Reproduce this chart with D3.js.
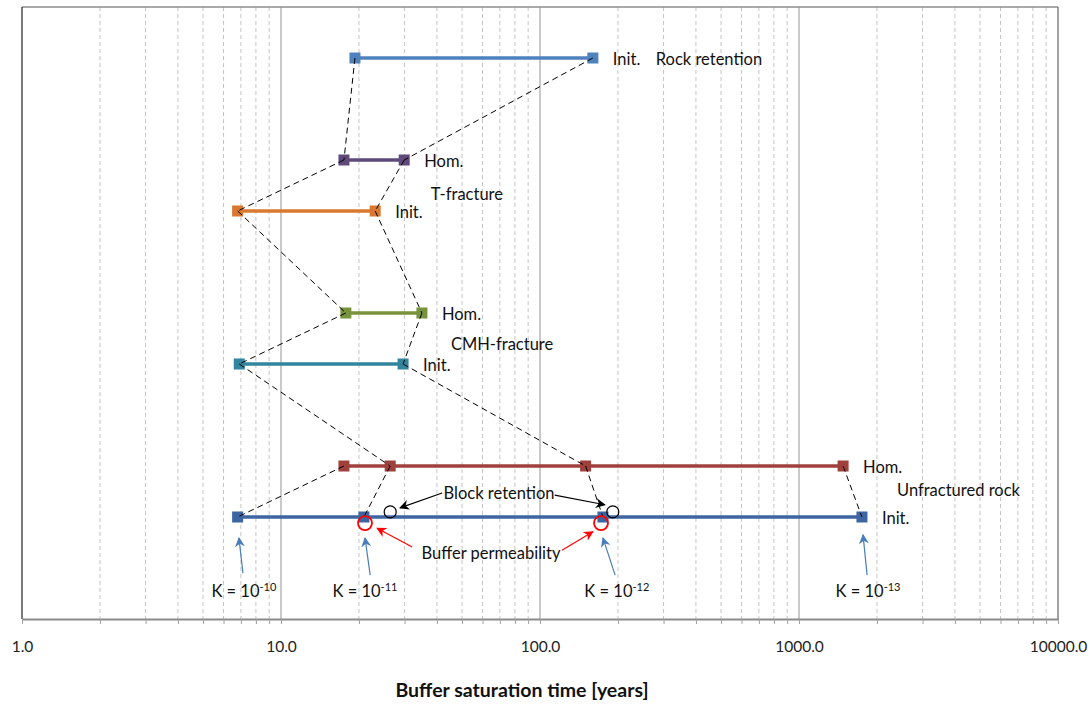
<!DOCTYPE html>
<html><head><meta charset="utf-8">
<script src="https://cdn.jsdelivr.net/npm/d3@7"></script>
<style>
body{margin:0;background:#fff;}
text{font-family:Lato,"Open Sans","Liberation Sans",Arial,sans-serif;}
</style></head>
<body><svg id="c" width="1090" height="704"></svg>
<script>
// ---- data ----
const rowNames = ["Rock retention Init.","T-fracture Hom.","T-fracture Init.","CMH-fracture Hom.","CMH-fracture Init.","Unfractured rock Hom.","Unfractured rock Init."];
const rowLevels = [0,2,3,5,6,8,9];
const rowValues = [[19.3,160],[17.5,29.9],[6.8,23.1],[17.8,35.0],[6.9,29.6],[17.5,26.4,150,1480],[6.8,20.9,175,1750]];
const rowColors = ["#4f81bd","#604a7b","#d9782f","#77933c","#31859c","#a0403d","#3c65a2"];
const rowLabels = ["Init.","Hom.","Init.","Hom.","Init.","Hom.","Init."];
// connector links: [fromRow, fromPoint, toRow, toPoint]
const links = [[0,0,1,0],[0,1,1,1],[1,0,2,0],[1,1,2,1],[2,0,3,0],[2,1,3,1],[3,0,4,0],[3,1,4,1],[4,0,5,1],[4,1,5,2],[5,0,6,0],[5,1,6,1],[5,2,6,2],[5,3,6,3]];
const groupNames = ["Rock retention","T-fracture","CMH-fracture","Unfractured rock"];
const groupX = [280,37.9,45.3,2390];
const groupLevels = [0,2.65,5.59,8.45];
const xTickLabels = [1,10,100,1000,10000];
// annotations (data units)
const blockCircles = [[26.4,8.9],[191,8.9]];
const bufferCircles = [[21.1,9.12],[172,9.12]];
const blockArrows = [[41.9,8.53,28.8,8.82],[114,8.57,178,8.76]];
const bufferArrows = [[32.1,9.59,23.5,9.22],[121.6,9.65,160,9.29]];
const kArrows = [[7.13,10.1,6.88,9.41],[22.1,10.14,21.1,9.41],[195,10.14,175,9.41],[1832,10.14,1767,9.35]];
const kLabelX = [7.19,21.1,198,1847];
const kExponents = ["-10","-11","-12","-13"];

// ---- layout ----
const svg = d3.select("#c");
const L=22,R=1058,T=7,B=619;
const x = d3.scaleLog().domain([1,10000]).range([L,R]);
const y = d3.scaleLinear().domain([-1,11]).range([T,B]);
const FS = 16.5;

const defs = svg.append("defs");
function mk(id,color){
  defs.append("marker").attr("id",id).attr("viewBox","0 0 10 10").attr("refX",9).attr("refY",5)
   .attr("markerWidth",10).attr("markerHeight",10).attr("markerUnits","userSpaceOnUse").attr("orient","auto")
   .append("path").attr("d","M0,0 L10,5 L0,10 L3,5 Z").attr("fill",color);
}
mk("ab","#000");mk("ar","#ff0000");mk("au","#4a7ebb");

// grid
const minor=[];
for(let d=1;d<10000;d*=10){for(let k=2;k<=9;k++)minor.push(d*k);}
svg.append("g").selectAll("line").data(minor).join("line")
  .attr("x1",d=>x(d)).attr("x2",d=>x(d)).attr("y1",T).attr("y2",B)
  .attr("stroke","#c4c4c4").attr("stroke-dasharray","4,3").attr("stroke-width",1);
svg.append("g").selectAll("line").data([10,100,1000]).join("line")
  .attr("x1",d=>x(d)).attr("x2",d=>x(d)).attr("y1",T).attr("y2",B)
  .attr("stroke","#a6a6a6").attr("stroke-width",1.2);

// border
svg.append("line").attr("x1",L).attr("x2",R).attr("y1",T).attr("y2",T).attr("stroke","#8c8c8c").attr("stroke-width",1.3);
svg.append("line").attr("x1",L).attr("x2",L).attr("y1",T).attr("y2",B).attr("stroke","#222").attr("stroke-width",1.2);
svg.append("line").attr("x1",R).attr("x2",R).attr("y1",T).attr("y2",B).attr("stroke","#6e6e6e").attr("stroke-width",1.3);

// axis
const ax = svg.append("g").attr("transform",`translate(0,${B})`)
  .call(d3.axisBottom(x).tickValues(minor.concat(xTickLabels)).tickSize(5).tickSizeOuter(0)
     .tickFormat(d=>xTickLabels.includes(d)?d3.format(".1f")(d):""));
ax.select(".domain").attr("stroke","#8a8a8a").attr("stroke-width",2.2);
ax.selectAll(".tick line").attr("stroke","#a0a0a0");
ax.selectAll(".tick text").attr("font-size",15.5).attr("fill","#222").attr("dy",25)
  .attr("font-family","Lato,sans-serif");
svg.append("text").attr("x",522).attr("y",697).attr("text-anchor","middle")
  .attr("font-size",19.5).attr("font-weight","bold").attr("fill","#111").text("Buffer saturation time [years]");

// connector dashed lines
const dash = g=>g.selectAll("line").data(links).join("line")
  .attr("x1",d=>x(rowValues[d[0]][d[1]])).attr("y1",d=>y(rowLevels[d[0]]))
  .attr("x2",d=>x(rowValues[d[2]][d[3]])).attr("y2",d=>y(rowLevels[d[2]]))
  .attr("stroke","#000").attr("stroke-width",1).attr("stroke-dasharray","6,4");

// rows
rowValues.forEach((vals,i)=>{
  const g=svg.append("g");
  g.append("path").attr("d",d3.line().x(v=>x(v)).y(()=>y(rowLevels[i]))(vals))
    .attr("stroke",rowColors[i]).attr("stroke-width",3.5).attr("fill","none");
  g.selectAll("rect").data(vals).join("rect")
    .attr("x",v=>x(v)-5.5).attr("y",y(rowLevels[i])-5.5).attr("width",11).attr("height",11)
    .attr("fill",rowColors[i]);
  g.append("text").attr("x",x(vals[vals.length-1])+20).attr("y",y(rowLevels[i])+1).attr("dy","0.35em")
    .attr("font-size",FS).attr("fill","#111").text(rowLabels[i]);
});
svg.append("g").call(dash);

// group labels
svg.append("g").selectAll("text").data(groupNames).join("text")
  .attr("x",(d,i)=>x(groupX[i])).attr("y",(d,i)=>y(groupLevels[i])+1).attr("dy","0.35em")
  .attr("font-size",FS).attr("fill","#111").text(d=>d);

// annotations
svg.append("g").selectAll("circle").data(blockCircles).join("circle")
  .attr("cx",d=>x(d[0])).attr("cy",d=>y(d[1])).attr("r",6).attr("fill","none").attr("stroke","#000").attr("stroke-width",1.2);
svg.append("g").selectAll("circle").data(bufferCircles).join("circle")
  .attr("cx",d=>x(d[0])).attr("cy",d=>y(d[1])).attr("r",7).attr("fill","none").attr("stroke","#ff0000").attr("stroke-width",1.8);
function arrows(data,color,mid,w){
  svg.append("g").selectAll("line").data(data).join("line")
    .attr("x1",d=>x(d[0])).attr("y1",d=>y(d[1])).attr("x2",d=>x(d[2])).attr("y2",d=>y(d[3]))
    .attr("stroke",color).attr("stroke-width",w).attr("marker-end",`url(#${mid})`);
}
arrows(blockArrows,"#000","ab",1.2);
arrows(bufferArrows,"#ff0000","ar",1.2);
arrows(kArrows,"#4a7ebb","au",1.2);
svg.append("text").attr("x",x(69.5)).attr("y",y(8.53)).attr("dy","0.35em").attr("text-anchor","middle")
  .attr("font-size",FS).attr("fill","#111").text("Block retention");
svg.append("text").attr("x",x(64.7)).attr("y",y(9.71)).attr("dy","0.35em").attr("text-anchor","middle")
  .attr("font-size",FS).attr("fill","#111").text("Buffer permeability");

const kl = svg.append("g").selectAll("text").data(kLabelX).join("text")
  .attr("x",d=>x(d)).attr("y",y(10.56)).attr("text-anchor","middle").attr("font-size",FS).attr("fill","#111");
kl.append("tspan").text("K = 10");
kl.append("tspan").attr("dy",-6).attr("font-size",11).text((d,i)=>kExponents[i]);
</script></body></html>
